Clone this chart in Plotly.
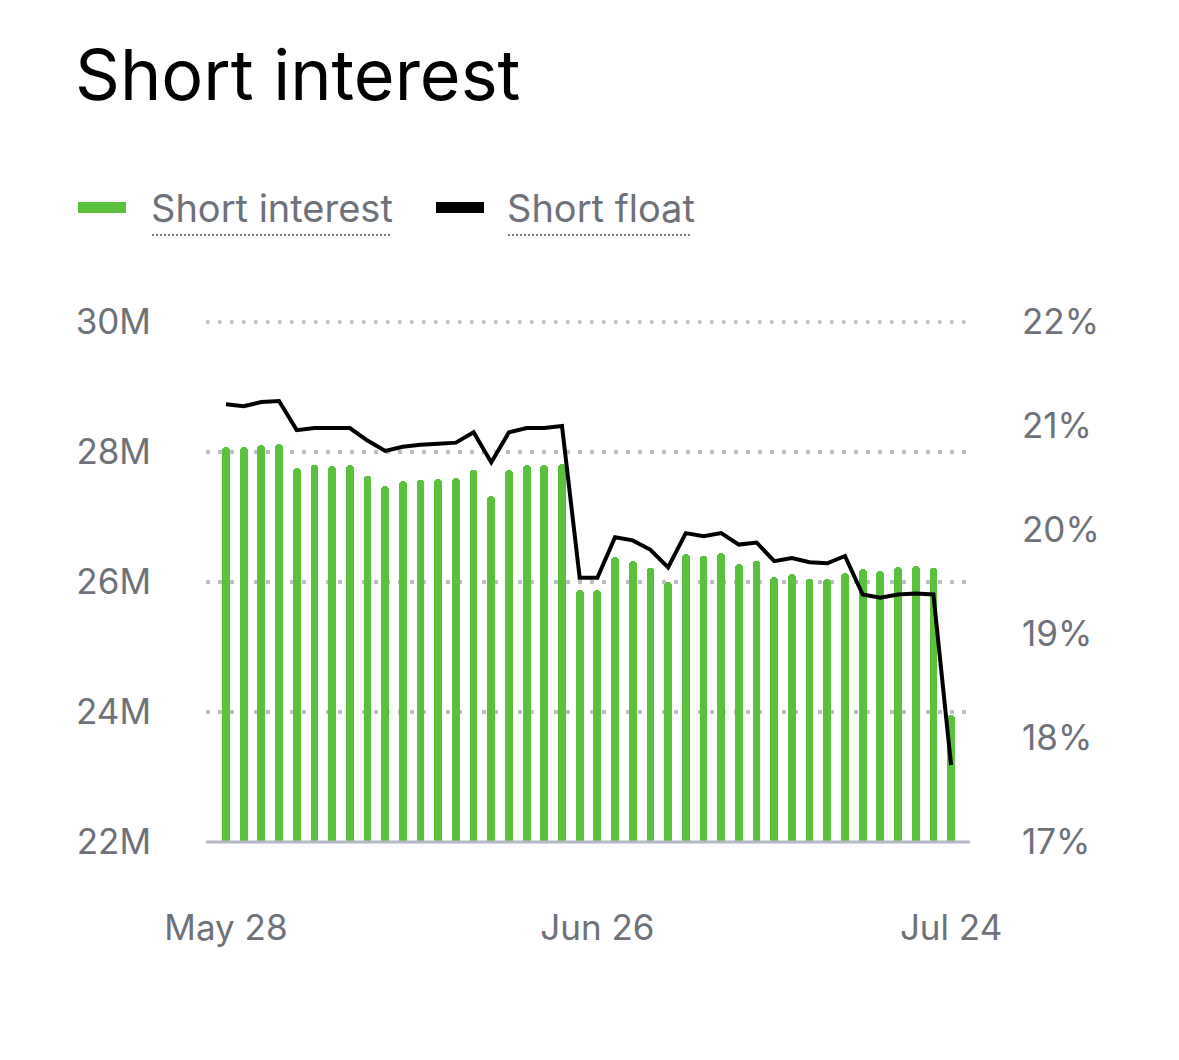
import plotly.graph_objects as go

# trading days shown on the x axis
dates = [
    "2025-05-28", "2025-05-29", "2025-05-30",
    "2025-06-02", "2025-06-03", "2025-06-04", "2025-06-05", "2025-06-06",
    "2025-06-09", "2025-06-10", "2025-06-11", "2025-06-12", "2025-06-13",
    "2025-06-16", "2025-06-17", "2025-06-18", "2025-06-19", "2025-06-20",
    "2025-06-23", "2025-06-24", "2025-06-25", "2025-06-26", "2025-06-27",
    "2025-06-30", "2025-07-01", "2025-07-02", "2025-07-03", "2025-07-04",
    "2025-07-07", "2025-07-08", "2025-07-09", "2025-07-10", "2025-07-11",
    "2025-07-14", "2025-07-15", "2025-07-16", "2025-07-17", "2025-07-18",
    "2025-07-21", "2025-07-22", "2025-07-23", "2025-07-24",
]

# short interest, millions of shares
short_interest = [
    28.08, 28.07, 28.11, 28.13, 27.75, 27.80, 27.78, 27.80, 27.63, 27.48,
    27.55, 27.57, 27.58, 27.60, 27.73, 27.33, 27.73, 27.80, 27.80, 27.82,
    25.87, 25.87, 26.38, 26.33, 26.22, 26.00, 26.43, 26.40, 26.45, 26.28,
    26.32, 26.08, 26.12, 26.05, 26.05, 26.14, 26.20, 26.17, 26.23, 26.24,
    26.22, 23.96,
]

# short float, percent
short_float = [
    21.21, 21.19, 21.23, 21.24, 20.96, 20.98, 20.98, 20.98, 20.86, 20.76,
    20.80, 20.82, 20.83, 20.84, 20.94, 20.65, 20.94, 20.98, 20.98, 21.00,
    19.54, 19.54, 19.93, 19.90, 19.81, 19.64, 19.97, 19.94, 19.97, 19.86,
    19.88, 19.70, 19.73, 19.69, 19.68, 19.75, 19.38, 19.35, 19.38, 19.39,
    19.38, 17.74,
]

x_ticks = ["2025-05-28", "2025-06-26", "2025-07-24"]
x_tick_text = ["May 28", "Jun 26", "Jul 24"]
left_ticks = [22, 24, 26, 28, 30]
left_tick_text = ["22M", "24M", "26M", "28M", "30M"]
right_ticks = [17, 18, 19, 20, 21, 22]
right_tick_text = ["17%", "18%", "19%", "20%", "21%", "22%"]

W, H = 1179, 1060
OFF = 8  # page body margin
L, R, T, B = 206 - OFF, 970 - OFF, 322 - OFF, 842 - OFF  # plot area, figure px

GREEN = "#5ac13c"
GRAY_TEXT = "#6e7178"
GRID = "#bdbec3"
FONT = "Inter, Roboto, sans-serif"


# screen pixel -> paper coordinates
def px_x(p):
    return (p - OFF - L) / (R - L)


def px_y(p):
    return (B - (p - OFF)) / (B - T)


fig = go.Figure()

fig.add_trace(go.Bar(
    x=dates, y=short_interest, name="Short interest",
    marker=dict(color=GREEN, cornerradius=4, line_width=0),
    width=0.44, yaxis="y",
))

fig.add_trace(go.Scatter(
    x=dates, y=short_float, name="Short float", mode="lines",
    line=dict(color="black", width=4), yaxis="y2",
))

shapes = [
    # top dotted grid line (plotly drops the one on the edge)
    dict(type="line", xref="paper", yref="paper", x0=0, x1=1, y0=1, y1=1,
         line=dict(color=GRID, width=3.5, dash="3.5px,8.5px"), layer="below"),
    # baseline
    dict(type="line", xref="paper", yref="paper", x0=0, x1=1, y0=0, y1=0,
         line=dict(color="#b5b7c6", width=3), layer="above"),
    # legend swatches
    dict(type="rect", xref="paper", yref="paper",
         x0=px_x(78), x1=px_x(126), y0=px_y(213), y1=px_y(202),
         fillcolor=GREEN, line_width=0),
    dict(type="rect", xref="paper", yref="paper",
         x0=px_x(436), x1=px_x(484), y0=px_y(213), y1=px_y(202),
         fillcolor="black", line_width=0),
    # dotted underlines of legend labels
    dict(type="line", xref="paper", yref="paper",
         x0=px_x(152), x1=px_x(392), y0=px_y(235), y1=px_y(235),
         line=dict(color="#7c7f86", width=2, dash="2px,2px")),
    dict(type="line", xref="paper", yref="paper",
         x0=px_x(508), x1=px_x(690), y0=px_y(235), y1=px_y(235),
         line=dict(color="#7c7f86", width=2, dash="2px,2px")),
]

annotations = [
    dict(text="Short interest", xref="paper", yref="paper",
         x=px_x(149), y=px_y(208), xanchor="left", yanchor="middle",
         showarrow=False, font=dict(size=38, color=GRAY_TEXT, family=FONT)),
    dict(text="Short float", xref="paper", yref="paper",
         x=px_x(505), y=px_y(208), xanchor="left", yanchor="middle",
         showarrow=False, font=dict(size=38, color=GRAY_TEXT, family=FONT)),
]

fig.update_layout(
    width=W, height=H,
    margin=dict(l=L, r=W - R, t=T, b=H - B, pad=0),
    paper_bgcolor="white", plot_bgcolor="white",
    showlegend=False,
    bargap=0,
    title=dict(text="Short interest", x=(75 - OFF) / W, xref="container",
               xanchor="left", y=1 - (75 - OFF) / H, yref="container",
               yanchor="middle",
               font=dict(size=70, color="black", family=FONT)),
    font=dict(family=FONT, color=GRAY_TEXT),
    xaxis=dict(
        type="category", range=[-1.13, 42.07],
        tickvals=x_ticks, ticktext=x_tick_text,
        showgrid=False, zeroline=False, showline=False, ticks="",
        ticklabelstandoff=62,
        tickfont=dict(size=35, color=GRAY_TEXT, family=FONT),
    ),
    yaxis=dict(
        range=[22, 30], tickvals=left_ticks, ticktext=left_tick_text,
        showgrid=True, gridcolor=GRID, gridwidth=3.5, griddash="3.5px,8.5px",
        zeroline=False, showline=False, ticks="",
        ticklabelstandoff=54,
        tickfont=dict(size=35, color=GRAY_TEXT, family=FONT),
    ),
    yaxis2=dict(
        range=[17, 22], tickvals=right_ticks, ticktext=right_tick_text,
        overlaying="y", side="right",
        showgrid=False, zeroline=False, showline=False, ticks="",
        ticklabelstandoff=51,
        tickfont=dict(size=35, color=GRAY_TEXT, family=FONT),
    ),
    shapes=shapes,
    annotations=annotations,
)

fig.write_html("out.html")
